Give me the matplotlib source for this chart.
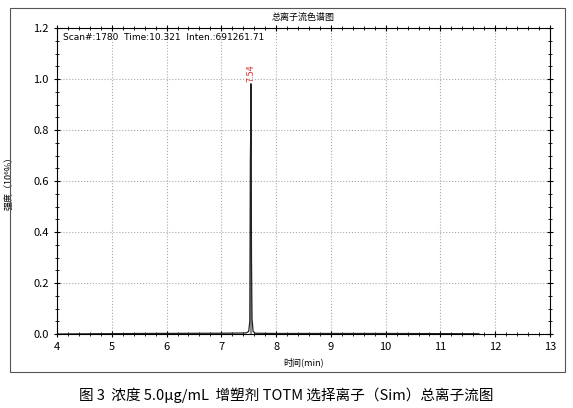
import matplotlib
matplotlib.use("Agg")
import matplotlib.pyplot as plt
from matplotlib.patches import Rectangle
from matplotlib.ticker import MultipleLocator

plt.rcParams['font.family'] = ['Noto Sans CJK SC', 'DejaVu Sans']

# chromatogram trace (time min, intensity x10^6)
rt = [4.0, 5.5, 7.0, 7.45, 7.50, 7.52, 7.53, 7.535, 7.54, 7.545, 7.55, 7.56, 7.58, 7.62, 8.0, 10.0, 11.7]
inten = [0.0, 0.002, 0.003, 0.004, 0.01, 0.05, 0.68, 0.77, 0.98, 0.77, 0.30, 0.06, 0.01, 0.003, 0.002, 0.002, 0.001]
peak_rt = 7.54
peak_h = 0.98
peak_label = "7.54"

fig = plt.figure(figsize=(5.73, 4.08), dpi=100)
fig.patches.append(Rectangle((10/573, 1-372/408), 555/573, 364/408, transform=fig.transFigure,
                             fill=False, edgecolor='#555555', lw=0.8))
ax = fig.add_axes([57/573, 1-334/408, 493/573, 306/408])
ax.plot(rt, inten, color='#222222', lw=0.9)
ax.plot([peak_rt, peak_rt], [0, peak_h], color='#777777', lw=1.2, zorder=1)
ax.text(peak_rt, peak_h + 0.01, peak_label, color='#e03030', rotation=90, fontsize=6.5,
        ha='center', va='bottom')
ax.set_xlim(4, 13)
ax.set_ylim(0, 1.2)
ax.xaxis.set_major_locator(MultipleLocator(1))
ax.xaxis.set_minor_locator(MultipleLocator(0.2))
ax.yaxis.set_major_locator(MultipleLocator(0.2))
ax.yaxis.set_minor_locator(MultipleLocator(0.05))
ax.tick_params(which='both', direction='inout', labelsize=8, top=True, right=True)
ax.tick_params(which='major', length=5)
ax.tick_params(which='minor', length=3)
ax.grid(True, linestyle=':', color='#aaaaaa', lw=0.8)
ax.set_xticklabels([f"{v:g}" for v in ax.get_xticks()])
ax.set_yticklabels([f"{v:.1f}" for v in ax.get_yticks()])
ax.text(0.012, 0.985, "Scan#:1780  Time:10.321  Inten.:691261.71", transform=ax.transAxes,
        fontsize=6.5, va='top', family='DejaVu Sans')
ax.set_title("总离子流色谱图", fontsize=6.5, pad=5)
ax.set_xlabel("时间(min)", fontsize=6.5, labelpad=4)
ax.set_ylabel("强度（10⁶%）", fontsize=6.5, labelpad=14)
fig.text(0.5, 1-395/408, "图 3  浓度 5.0μg/mL  增塑剂 TOTM 选择离子（Sim）总离子流图",
         ha='center', va='center', fontsize=10.5)
fig.savefig("out.png", dpi=100)
